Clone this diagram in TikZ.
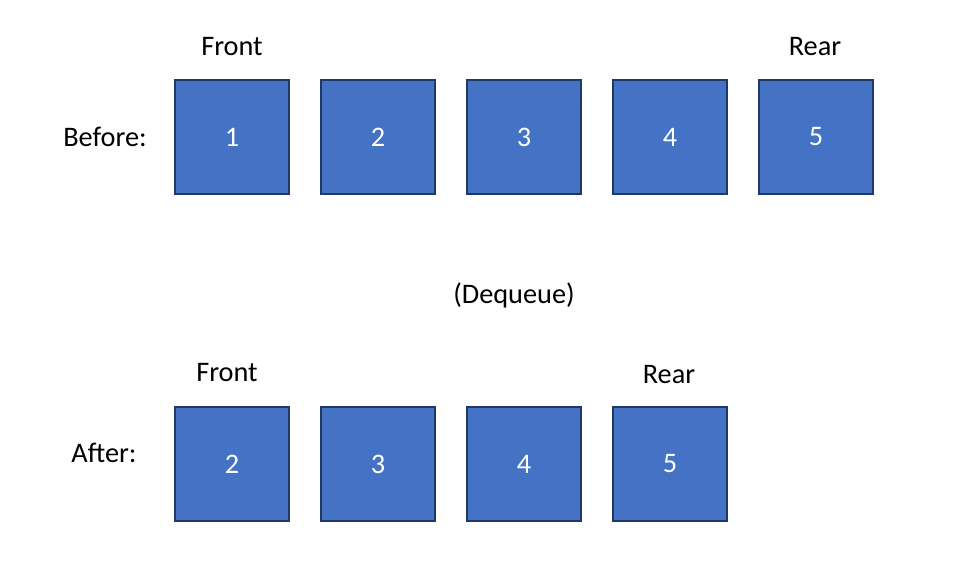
\documentclass[tikz,border=0pt]{standalone}
\usepackage{fontspec}
\setmainfont{Carlito}
\usetikzlibrary{positioning}

\definecolor{qfill}{HTML}{4472C4}
\definecolor{qedge}{HTML}{203864}

\begin{document}
\begin{tikzpicture}[x=1pt, y=-1pt, every node/.style={font=\fontsize{28.3}{32}\selectfont},
    qbox/.style={draw=qedge, line width=1.6pt, fill=qfill, text=white, minimum width=114pt, minimum height=114pt, inner sep=0pt}]
    \useasboundingbox (0,0) rectangle (976,588);

    % Before: full queue
    \node[anchor=base] (lblBefore) at (105, 147) {Before:};
    \node[qbox] (B1) at (232, 137) {1};
    \node[qbox] (B2) at (378, 137) {2};
    \node[qbox] (B3) at (524, 137) {3};
    \node[qbox] (B4) at (670, 137) {4};
    \node[qbox] (B5) at (816, 137) {5};
    \node[anchor=base] (frontB) at (232, 56) {Front};
    \node[anchor=base] (rearB) at (815, 56) {Rear};

    % Operation
    \node[anchor=base] (op) at (514, 303) {(Dequeue)};

    % After: first element removed
    \node[anchor=base] (lblAfter) at (104, 462) {After:};
    \node[qbox] (A1) at (232, 464) {2};
    \node[qbox] (A2) at (378, 464) {3};
    \node[qbox] (A3) at (524, 464) {4};
    \node[qbox] (A4) at (670, 464) {5};
    \node[anchor=base] (frontA) at (227, 381) {Front};
    \node[anchor=base] (rearA) at (669, 383) {Rear};

\end{tikzpicture}
\end{document}
